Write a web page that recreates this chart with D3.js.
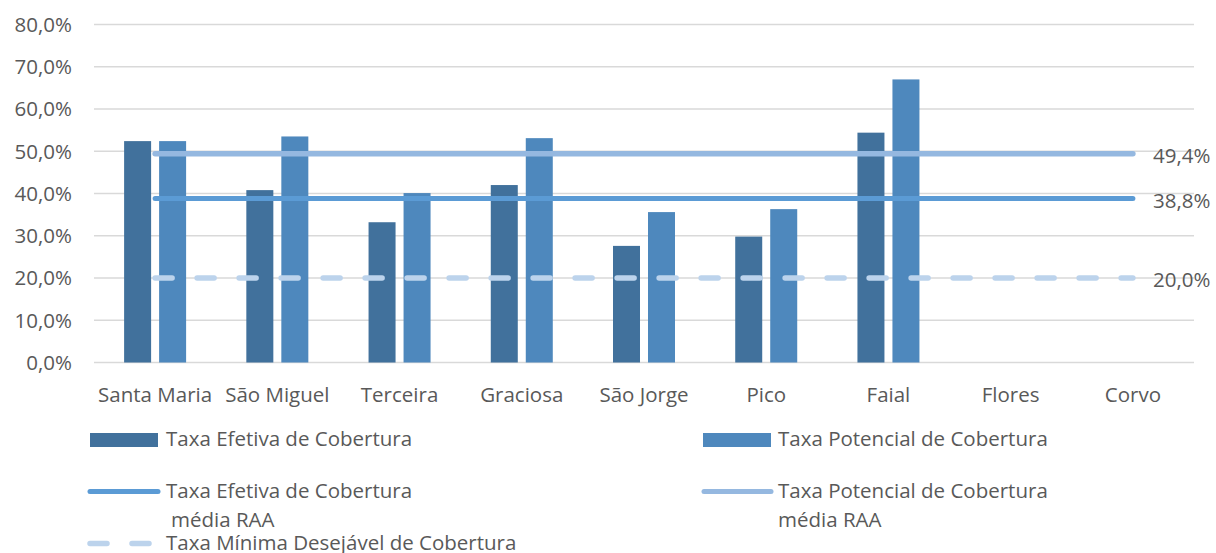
<!DOCTYPE html>
<html><head><meta charset="utf-8">
<script src="https://cdn.jsdelivr.net/npm/d3@7"></script>
<style>body{margin:0;background:#fff}svg{display:block}text{font-family:"Open Sans",sans-serif;fill:#595959}</style>
</head><body><svg id="c" width="1216" height="553"></svg>
<script>
const categories = ["Santa Maria","São Miguel","Terceira","Graciosa","São Jorge","Pico","Faial","Flores","Corvo"];
const efetiva = [52.4, 40.8, 33.2, 42.0, 27.6, 29.8, 54.4, null, null];
const potencial = [52.4, 53.5, 40.1, 53.1, 35.6, 36.3, 67.0, null, null];
const mediaEfetiva = 38.8;
const mediaPotencial = 49.4;
const minima = 20.0;
const yTicks = [0,10,20,30,40,50,60,70,80];
const seriesNames = ["Taxa Efetiva de Cobertura","Taxa Potencial de Cobertura"];

const svg = d3.select("#c");
const x = d3.scaleBand().domain(categories).range([94,1194]);
const y = d3.scaleLinear().domain([0,80]).range([362.5,24.5]);
const fmt = v => v.toFixed(1).replace(".",",") + "%";
const fs = 20.5;

// gridlines
svg.append("g").selectAll("line").data(yTicks).join("line")
  .attr("x1",94).attr("x2",1194).attr("y1",d=>y(d)).attr("y2",d=>y(d))
  .attr("stroke","#d9d9d9").attr("stroke-width",1.3);
// y labels
svg.append("g").selectAll("text").data(yTicks).join("text")
  .attr("x",72).attr("y",d=>y(d)+7.3).attr("text-anchor","end").attr("font-size",fs).text(fmt);

// bars
const bw = 27, gap = 8;
const cx = c => x(c) + x.bandwidth()/2;
svg.append("g").selectAll("rect").data(categories.map((c,i)=>({c,v:efetiva[i]})).filter(d=>d.v!=null)).join("rect")
  .attr("x",d=>cx(d.c)-gap/2-bw).attr("width",bw).attr("y",d=>y(d.v)).attr("height",d=>y(0)-y(d.v))
  .attr("fill","#41719c");
svg.append("g").selectAll("rect").data(categories.map((c,i)=>({c,v:potencial[i]})).filter(d=>d.v!=null)).join("rect")
  .attr("x",d=>cx(d.c)+gap/2).attr("width",bw).attr("y",d=>y(d.v)).attr("height",d=>y(0)-y(d.v))
  .attr("fill","#4e88bd");

// lines
const x0 = cx(categories[0]), x1 = cx(categories[categories.length-1]);
const lines = [
  {v:mediaPotencial, color:"#95b8e0", w:5.5, dash:null},
  {v:mediaEfetiva, color:"#5b9bd5", w:5, dash:null},
  {v:minima, color:"#bcd3ec", w:5.5, dash:"17,25"}
];
lines.forEach(l=>{
  const ln = svg.append("line").attr("x1",x0).attr("x2",x1).attr("y1",y(l.v)).attr("y2",y(l.v))
    .attr("stroke",l.color).attr("stroke-width",l.w).attr("stroke-linecap","round");
  if(l.dash) ln.attr("stroke-dasharray",l.dash);
  svg.append("text").attr("x",1153).attr("y",y(l.v)+9).attr("font-size",fs).text(fmt(l.v));
});

// category labels
svg.append("g").selectAll("text").data(categories).join("text")
  .attr("x",d=>cx(d)).attr("y",401.5).attr("text-anchor","middle").attr("font-size",fs).text(d=>d);

// legend
const lg = svg.append("g");
lg.append("rect").attr("x",90).attr("y",433).attr("width",68).attr("height",14).attr("fill","#41719c");
lg.append("text").attr("x",166).attr("y",446).attr("font-size",fs).text(seriesNames[0]);
lg.append("rect").attr("x",703).attr("y",433).attr("width",68).attr("height",14).attr("fill","#4e88bd");
lg.append("text").attr("x",778).attr("y",446).attr("font-size",fs).text(seriesNames[1]);

lg.append("line").attr("x1",90).attr("x2",158).attr("y1",491.5).attr("y2",491.5).attr("stroke","#5b9bd5").attr("stroke-width",5).attr("stroke-linecap","round");
lg.append("text").attr("x",166).attr("y",498).attr("font-size",fs).text("Taxa Efetiva de Cobertura");
lg.append("text").attr("x",171).attr("y",527).attr("font-size",fs).text("média RAA");
lg.append("line").attr("x1",704).attr("x2",771).attr("y1",491.5).attr("y2",491.5).attr("stroke","#95b8e0").attr("stroke-width",5).attr("stroke-linecap","round");
lg.append("text").attr("x",778).attr("y",498).attr("font-size",fs).text("Taxa Potencial de Cobertura");
lg.append("text").attr("x",778).attr("y",527).attr("font-size",fs).text("média RAA");

lg.append("line").attr("x1",90).attr("x2",152).attr("y1",543.5).attr("y2",543.5).attr("stroke","#bcd3ec").attr("stroke-width",5.5).attr("stroke-linecap","round").attr("stroke-dasharray","17,25");
lg.append("text").attr("x",166).attr("y",550).attr("font-size",fs).text("Taxa Mínima Desejável de Cobertura");
</script></body></html>
